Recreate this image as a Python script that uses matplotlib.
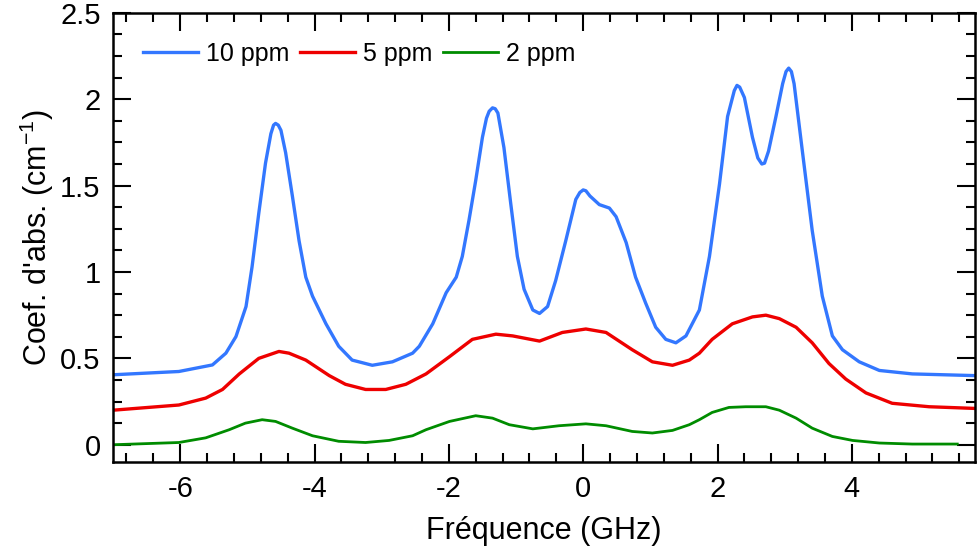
import matplotlib.pyplot as plt
from matplotlib.ticker import MultipleLocator

plt.rcParams['font.family'] = ['Liberation Sans', 'DejaVu Sans']
plt.rcParams['axes.unicode_minus'] = False

# 10 ppm
x_10 = [-7.0, -6.02, -5.52, -5.32, -5.17, -5.02, -4.93, -4.83, -4.73, -4.65, -4.61, -4.58,
        -4.54, -4.50, -4.43, -4.33, -4.23, -4.13, -4.03, -3.83, -3.64, -3.44, -3.14, -2.84,
        -2.54, -2.44, -2.24, -2.04, -1.89, -1.80, -1.70, -1.60, -1.50, -1.44, -1.40, -1.35,
        -1.31, -1.27, -1.18, -1.08, -0.98, -0.88, -0.75, -0.65, -0.53, -0.41, -0.26, -0.11,
        -0.05, 0.0, 0.04, 0.10, 0.24, 0.39, 0.49, 0.64, 0.78, 0.93, 1.08, 1.23, 1.38, 1.53,
        1.73, 1.88, 2.03, 2.15, 2.25, 2.29, 2.33, 2.40, 2.52, 2.60, 2.66, 2.70, 2.76, 2.87,
        2.97, 3.02, 3.06, 3.10, 3.14, 3.26, 3.41, 3.56, 3.71, 3.86, 4.11, 4.41, 4.90, 5.85]
y_10 = [0.405, 0.424, 0.462, 0.53, 0.626, 0.80, 1.03, 1.34, 1.63, 1.80, 1.85, 1.86,
        1.85, 1.82, 1.69, 1.44, 1.18, 0.97, 0.86, 0.70, 0.57, 0.49, 0.46, 0.48,
        0.53, 0.57, 0.70, 0.88, 0.97, 1.09, 1.30, 1.53, 1.78, 1.89, 1.93, 1.95,
        1.945, 1.92, 1.72, 1.40, 1.09, 0.90, 0.78, 0.76, 0.80, 0.95, 1.18, 1.42,
        1.46, 1.475, 1.47, 1.44, 1.39, 1.37, 1.32, 1.17, 0.97, 0.82, 0.68, 0.61, 0.59, 0.63,
        0.78, 1.09, 1.51, 1.90, 2.05, 2.08, 2.07, 2.01, 1.78, 1.66, 1.625, 1.63, 1.70, 1.90,
        2.09, 2.16, 2.18, 2.16, 2.09, 1.71, 1.24, 0.86, 0.63, 0.55, 0.48, 0.43, 0.41, 0.40]

# 5 ppm
x_5 = [-7.0, -6.02, -5.62, -5.37, -5.12, -4.83, -4.53, -4.38, -4.13, -3.78, -3.54,
       -3.24, -2.94, -2.64, -2.34, -1.99, -1.65, -1.30, -1.05, -0.65, -0.31, 0.04,
       0.34, 0.73, 1.03, 1.33, 1.58, 1.73, 1.92, 2.22, 2.52, 2.72, 2.92, 3.17,
       3.41, 3.66, 3.91, 4.21, 4.60, 5.15, 5.85]
y_5 = [0.20, 0.23, 0.27, 0.32, 0.41, 0.50, 0.54, 0.53, 0.49, 0.40, 0.35,
       0.32, 0.32, 0.35, 0.41, 0.51, 0.61, 0.64, 0.63, 0.60, 0.65, 0.67,
       0.65, 0.55, 0.48, 0.46, 0.49, 0.53, 0.61, 0.70, 0.74, 0.75, 0.73, 0.68,
       0.59, 0.47, 0.38, 0.30, 0.24, 0.22, 0.21]

# 2 ppm
x_2 = [-7.0, -6.02, -5.62, -5.27, -5.03, -4.78, -4.58, -4.33, -4.03, -3.64, -3.24,
       -2.89, -2.54, -2.34, -1.99, -1.60, -1.35, -1.10, -0.75, -0.36, 0.04, 0.34,
       0.73, 1.03, 1.33, 1.58, 1.73, 1.92, 2.17, 2.42, 2.72, 2.92, 3.17, 3.41,
       3.71, 4.01, 4.41, 4.90, 5.57]
y_2 = [0.0, 0.013, 0.04, 0.087, 0.125, 0.145, 0.135, 0.096, 0.052, 0.02, 0.013,
       0.025, 0.052, 0.087, 0.135, 0.168, 0.154, 0.116, 0.092, 0.11, 0.121, 0.11,
       0.077, 0.068, 0.083, 0.116, 0.145, 0.187, 0.216, 0.22, 0.22, 0.20, 0.154, 0.096,
       0.048, 0.025, 0.01, 0.004, 0.004]

fig = plt.figure(figsize=(9.77, 5.58), dpi=100)
ax = fig.add_axes([0.1157, 0.172, 0.882, 0.805])

ax.plot(x_10, y_10, color='#3377ff', lw=2.4, label='10 ppm')
ax.plot(x_5, y_5, color='#ee0000', lw=2.4, label='5 ppm')
ax.plot(x_2, y_2, color='#008c00', lw=2.0, label='2 ppm')

ax.set_xlim(-7, 5.83)
ax.set_ylim(-0.1, 2.5)
ax.xaxis.set_major_locator(MultipleLocator(2))
ax.xaxis.set_minor_locator(MultipleLocator(0.4))
ax.yaxis.set_minor_locator(MultipleLocator(0.125))
ax.set_yticks([0, 0.5, 1, 1.5, 2, 2.5])
ax.set_yticklabels(['0', '0.5', '1', '1.5', '2', '2.5'])

ax.tick_params(which='both', direction='in', top=True, right=True, width=1.5,
               labelsize=21, colors='black')
ax.tick_params(which='major', length=13, pad=9)
ax.tick_params(which='minor', length=6.5)
for s in ax.spines.values():
    s.set_linewidth(1.8)

ax.set_xlabel('Fréquence (GHz)', fontsize=22, labelpad=10)
ax.set_ylabel("Coef. d'abs. (cm$^{\\mathregular{-1}}$)", fontsize=22, labelpad=3)

ax.legend(loc='center left', bbox_to_anchor=(0.035, 0.909), ncol=3, frameon=False,
          fontsize=18, handlelength=2.2, handletextpad=0.3, columnspacing=0.45,
          borderpad=0, borderaxespad=0)

plt.savefig('out.png')
